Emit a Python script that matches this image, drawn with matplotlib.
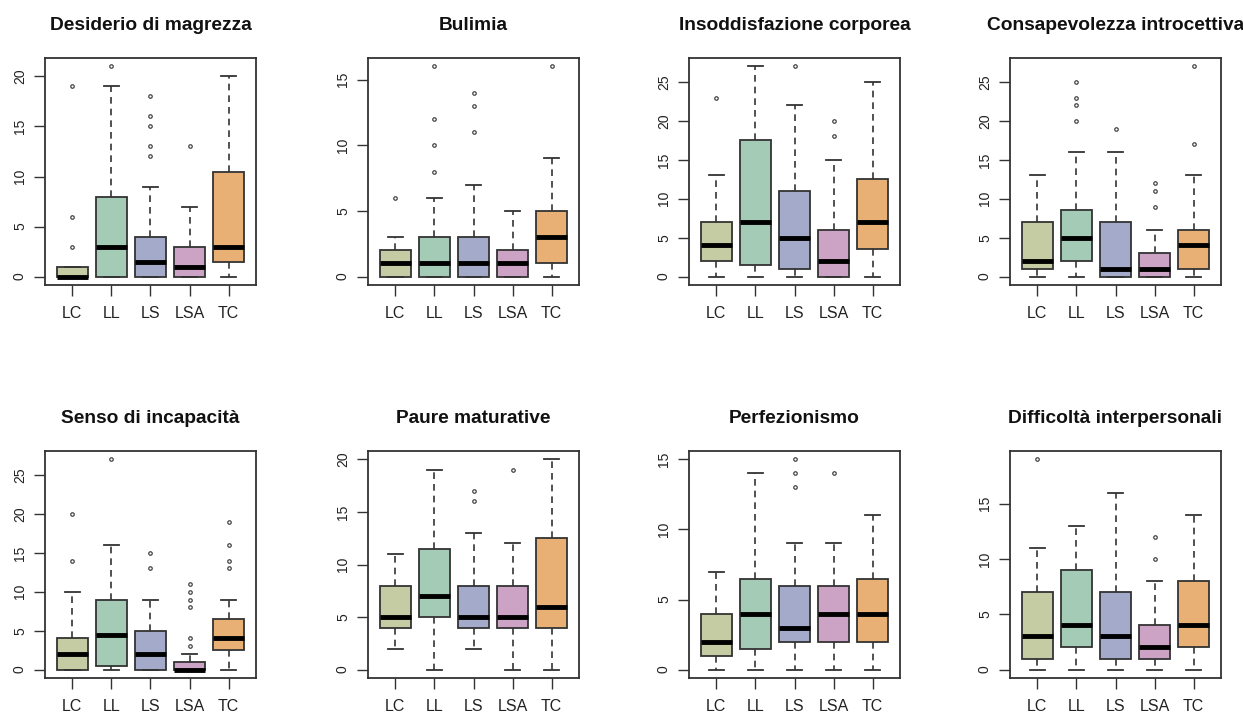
import matplotlib
matplotlib.use("Agg")
import matplotlib.pyplot as plt

plt.rcParams['font.family'] = ['Liberation Sans', 'DejaVu Sans']

groups = ["LC", "LL", "LS", "LSA", "TC"]
colors = ["#c5cca3", "#a3cbb6", "#a4aaca", "#cda3c5", "#e8b074"]

titles = ["Desiderio di magrezza", "Bulimia", "Insoddisfazione corporea",
          "Consapevolezza introcettiva", "Senso di incapacità",
          "Paure maturative", "Perfezionismo", "Difficoltà interpersonali"]

# one row per group: low whisker, Q1, median, Q3, high whisker
magrezza = [[0, 0, 0, 1, 1], [0, 0, 3, 8, 19], [0, 0, 1.5, 4, 9],
            [0, 0, 1, 3, 7], [0, 1.5, 3, 10.5, 20]]
magrezza_out = [[3, 6, 19], [21], [12, 13, 15, 16, 18], [13], []]

bulimia = [[0, 0, 1, 2, 3], [0, 0, 1, 3, 6], [0, 0, 1, 3, 7],
           [0, 0, 1, 2, 5], [0, 1, 3, 5, 9]]
bulimia_out = [[6], [8, 10, 12, 16], [11, 13, 14], [], [16]]

insodd = [[0, 2, 4, 7, 13], [0, 1.5, 7, 17.5, 27], [0, 1, 5, 11, 22],
          [0, 0, 2, 6, 15], [0, 3.5, 7, 12.5, 25]]
insodd_out = [[23], [], [27], [18, 20], []]

consap = [[0, 1, 2, 7, 13], [0, 2, 5, 8.5, 16], [0, 0, 1, 7, 16],
          [0, 0, 1, 3, 6], [0, 1, 4, 6, 13]]
consap_out = [[], [20, 22, 23, 25], [19], [9, 11, 12], [17, 27]]

incapac = [[0, 0, 2, 4, 10], [0, 0.5, 4.5, 9, 16], [0, 0, 2, 5, 9],
           [0, 0, 0, 1, 2], [0, 2.5, 4, 6.5, 9]]
incapac_out = [[14, 20], [27], [13, 15], [3, 4, 8, 9, 10, 11], [13, 14, 16, 19]]

paure = [[2, 4, 5, 8, 11], [0, 5, 7, 11.5, 19], [2, 4, 5, 8, 13],
         [0, 4, 5, 8, 12], [0, 4, 6, 12.5, 20]]
paure_out = [[], [], [16, 17], [19], []]

perfez = [[0, 1, 2, 4, 7], [0, 1.5, 4, 6.5, 14], [0, 2, 3, 6, 9],
          [0, 2, 4, 6, 9], [0, 2, 4, 6.5, 11]]
perfez_out = [[], [], [13, 14, 15], [14], []]

diffic = [[0, 1, 3, 7, 11], [0, 2, 4, 9, 13], [0, 1, 3, 7, 16],
          [0, 1, 2, 4, 8], [0, 2, 4, 8, 14]]
diffic_out = [[19], [], [], [10, 12], []]

panels = [(magrezza, magrezza_out), (bulimia, bulimia_out), (insodd, insodd_out),
          (consap, consap_out), (incapac, incapac_out), (paure, paure_out),
          (perfez, perfez_out), (diffic, diffic_out)]
yticks = [range(0, 21, 5), range(0, 16, 5), range(0, 26, 5), range(0, 26, 5),
          range(0, 26, 5), range(0, 21, 5), range(0, 16, 5), range(0, 16, 5)]

W, H = 1243, 714
fig = plt.figure(figsize=(W / 100, H / 100), dpi=100)
lefts = [45, 368, 689, 1010]
tops = [58, 451]
aw, ah = 211, 227

edge = "#333333"
for k, (stats, outs) in enumerate(panels):
    r, c = divmod(k, 4)
    ax = fig.add_axes([lefts[c] / W, (H - tops[r] - ah) / H, aw / W, ah / H])
    bx = []
    for s, o in zip(stats, outs):
        bx.append(dict(whislo=s[0], q1=s[1], med=s[2], q3=s[3], whishi=s[4], fliers=o))
    b = ax.bxp(bx, positions=range(1, 6), widths=0.8, capwidths=0.4,
               patch_artist=True, showfliers=True,
               boxprops=dict(edgecolor=edge, linewidth=1.3),
               whiskerprops=dict(color=edge, linewidth=1.2, linestyle=(0, (4, 3))),
               capprops=dict(color=edge, linewidth=1.3),
               medianprops=dict(color="black", linewidth=3.5, solid_capstyle="butt"),
               flierprops=dict(marker="o", markersize=2.5, markerfacecolor="none",
                               markeredgecolor="#444444", markeredgewidth=0.9))
    for patch, col in zip(b["boxes"], colors):
        patch.set_facecolor(col)
    allv = [v for s in stats for v in s] + [v for o in outs for v in o]
    lo, hi = min(allv), max(allv)
    pad = (hi - lo) * 0.04
    ax.set_ylim(lo - pad, hi + pad)
    ax.set_xlim(0.3, 5.7)
    ax.set_xticks(range(1, 6))
    ax.set_xticklabels(groups, fontsize=11.5, color="#222222")
    ax.set_yticks(list(yticks[k]))
    ax.tick_params(axis="y", labelrotation=90, labelsize=10, length=8, width=1,
                   color=edge, pad=5, labelcolor="#222222")
    ax.tick_params(axis="x", length=8, width=1, color=edge, pad=7)
    for lab in ax.get_yticklabels():
        lab.set_va("center")
    for sp in ax.spines.values():
        sp.set_color(edge)
        sp.set_linewidth(1.3)
    ax.set_title(titles[k], fontsize=13.8, fontweight="bold", pad=20, color="#111111")

fig.savefig("out.png", dpi=100)
